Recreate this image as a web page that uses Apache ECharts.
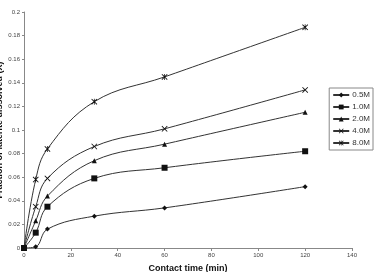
<!DOCTYPE html>
<html style="height: 100%">
<head>
    <meta charset="UTF-8">
    <script type="text/javascript" src="https://cdn.jsdelivr.net/npm/echarts@6/dist/echarts.min.js"></script>
</head>
<body style="height: 100%; margin: 0; background: #fff">
    <div id="container" style="width: 375px; height: 272px"></div>
    <script type="text/javascript">
        var times = [0, 5, 10, 30, 60, 120];
        var names = ['0.5M', '1.0M', '2.0M', '4.0M', '8.0M'];
        var c05 = [0, 0.001, 0.016, 0.027, 0.034, 0.052];
        var c10 = [0, 0.013, 0.035, 0.059, 0.068, 0.082];
        var c20 = [0, 0.023, 0.044, 0.074, 0.088, 0.115];
        var c40 = [0, 0.035, 0.059, 0.086, 0.101, 0.134];
        var c80 = [0, 0.058, 0.084, 0.124, 0.145, 0.187];

        var crossPath = 'path://M0,1L1,0L5,4L9,0L10,1L6,5L10,9L9,10L5,6L1,10L0,9L4,5Z';
        var starPath = 'path://M0,1L1,0L5,4L9,0L10,1L6,5L10,9L9,10L5,6L1,10L0,9L4,5Z M4.4,0L5.6,0L5.6,10L4.4,10Z';

        var symbols = ['diamond', 'rect', 'triangle', crossPath, starPath];
        var sizes = [5, 6, 5, 6, 6];
        var values = [c05, c10, c20, c40, c80];

        var myChart = echarts.init(document.getElementById('container'), null, {renderer: 'canvas'});

        var series = names.map(function (n, i) {
            return {
                name: n,
                type: 'line',
                smooth: 0.4,
                symbol: symbols[i],
                symbolSize: sizes[i],
                showSymbol: true,
                lineStyle: {color: '#333', width: 1},
                itemStyle: {color: '#111'},
                data: times.map(function (t, k) { return [t, values[i][k]]; })
            };
        });

        var option = {
            animation: false,
            textStyle: {fontFamily: 'Liberation Sans'},
            grid: {left: 24, right: 23, top: 12, bottom: 24, outerBoundsMode: 'none', containLabel: false},
            legend: {
                orient: 'vertical',
                right: 2,
                top: 88,
                padding: [3, 3, 3, 3],
                itemGap: 4,
                itemWidth: 16,
                itemHeight: 6,
                borderColor: '#888',
                borderWidth: 1,
                textStyle: {fontSize: 8, color: '#333', padding: [0, 0, 0, -2]},
                data: names
            },
            xAxis: {
                type: 'value',
                min: 0, max: 140, interval: 20,
                name: 'Contact time (min)',
                nameLocation: 'middle',
                nameGap: 16,
                nameMoveOverlap: false,
                nameTextStyle: {fontSize: 9, fontWeight: 'bold', color: '#111'},
                splitLine: {show: false},
                axisLine: {lineStyle: {color: '#888'}},
                axisTick: {length: 3, lineStyle: {color: '#888'}},
                axisLabel: {fontSize: 6, color: '#444', margin: 4}
            },
            yAxis: {
                type: 'value',
                min: 0, max: 0.2, interval: 0.02,
                name: 'Fraction of laterite dissolved (X)',
                nameLocation: 'middle',
                nameGap: 20,
                nameMoveOverlap: false,
                nameTextStyle: {fontSize: 9, fontWeight: 'bold', color: '#111'},
                splitLine: {show: false},
                axisLine: {show: true, lineStyle: {color: '#888'}},
                axisTick: {show: true, length: 2, lineStyle: {color: '#888'}},
                axisLabel: {fontSize: 6, color: '#444', margin: 4}
            },
            series: series
        };

        myChart.setOption(option);
    </script>
</body>
</html>
